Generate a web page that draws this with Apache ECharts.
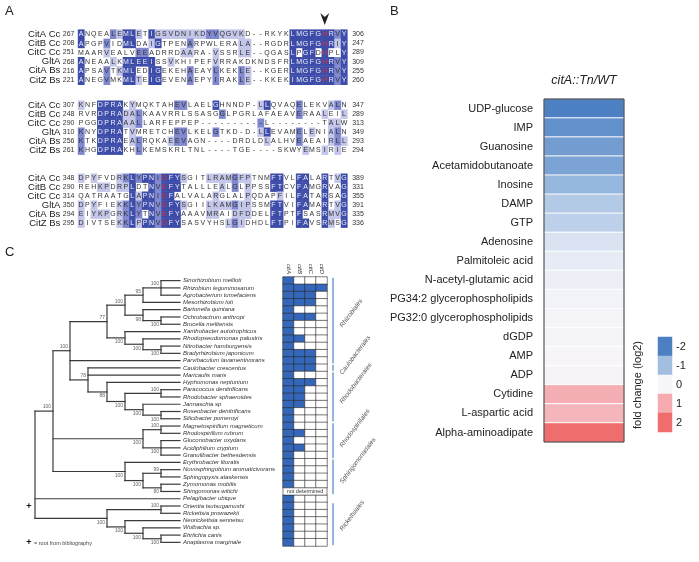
<!DOCTYPE html>
<html><head><meta charset="utf-8">
<script src="https://cdn.jsdelivr.net/npm/echarts@6/dist/echarts.min.js"></script>
<style>html,body{margin:0;padding:0;background:#fff}#c{width:699px;height:562px}</style>
</head><body><div id="c"></div>
<script>
// ---------------- Panel A : alignment ----------------
const seqNames = ['CitA Cc','CitB Cc','CitC Cc','GltA','CitA Bs','CitZ Bs'];
const block1Start = ['267','208','251','268','216','221'];
const block1End   = ['306','247','289','309','255','260'];
const block1Seq = [
 'ANQEALEMLETIGSVDNIKDYVQGVKD--RKYKLMGFGHRVY',
 'APGPVIDMLDAIGTPENARPWLERALA--RGDRLMGFGHRIY',
 'MAARVEALVEEADRRDAARA-VSSRLE--QGASLPGFDHPLY',
 'ANEAALKMLEEISSVKHIPEFVRRAKDKNDSFRLMGFGHRVY',
 'APSAVTKMLEDIGEKEHAEAYLKEKLE--KGERLMGFGHRVY',
 'ANEGVMKMLTEIGEVENAEPYIRAKLE--KKEKIMGFGHRVY'];
const block1Shade = [
 '300002133103111111112211110000000333333323',
 '300020033001300002000000011000000333333313',
 '000010000220000011000100011000000303303003',
 '300001033333001000000100000000000333333323',
 '300020133003300002000200021000000333333323',
 '300020033103300002000200021000000333333323'];
const block2Start = ['307','248','290','310','256','261'];
const block2End   = ['347','289','313','349','293','294'];
const block2Seq = [
 'KNFDPRAKYMQKTAHEVLAELGHNNDP-LLQVAQELEKVALN',
 'RVRDPRADALKAAVRRLSSASGGLPGRLAFAEAVERAALEIL',
 'PGGDPRAAALLARFEPPEP----------L--------TALW',
 'KNYDPRATVMRETCHEVLKELGTKD-D-LLEVAMELENIALN',
 'KTKDPRAEALRQKAEEVAGN----DRDLDLALHVEAEAIRLL',
 'KHGDPRAKHLKEMSKRLTNL----TGE----SKWYEMSIRIE'];
const block2Shade = [
 '100333301000000220000300000013000020000120',
 '000333311200000000000020000000000020001001',
 '000333311200000000000000000020000000000110',
 '200333301000000220000200000013000020100120',
 '200333301200001220000000000001000020000121',
 '200333300200000000000000000000000001001010'];
const block3Start = ['348','290','314','350','294','295'];
const block3End   = ['389','331','355','391','335','336'];
const block3Seq = [
 'DPYFVDRKLYPNIDFYSGITLRAMGFPTNMFTVLFALARTVG',
 'REHKPDRPLDTNVEFYTALLLEALGLPPSSFTCVFAMGRVAG',
 'QATRAATGLAPNIDFALVALARGLALPQDAPFILFATARSAG',
 'DPYFIEKKLYPNVDFYSGIILKAMGIPSSMFTVIFAMARTVG',
 'EIYKPGRKLYTNVEFYAAAVMRAIDFDDELFTPTFSASRMVG',
 'DIVTSEKKLPPNVDFYSASVYHSLGIDHDLFTPIFAVSRMSG'];
const block3Shade = [
 '101000123233233310001111211000330033003013',
 '000110113003233300000010201000330033003003',
 '000000003133233000000100001000010033003003',
 '101000123233233310001111211000330033003013',
 '101110123203233300001100111000330030003113',
 '100000123133233300000001210000330033003103'];
const redColumns = [[38], [], [13]];   // highlighted residues (0-based column)
const arrowColumn = 38;

// ---------------- Panel B : metabolite heatmap ----------------
const metabolites = ['UDP-glucose','IMP','Guanosine','Acetamidobutanoate','Inosine','DAMP','GTP',
 'Adenosine','Palmitoleic acid','N-acetyl-glutamic acid','PG34:2 glycerophospholipids',
 'PG32:0 glycerophospholipids','dGDP','AMP','ADP','Cytidine','L-aspartic acid','Alpha-aminoadipate'];
const foldChange = [-2.0,-1.75,-1.55,-1.45,-1.15,-0.8,-0.7,-0.35,-0.2,-0.12,-0.06,-0.04,-0.03,0.02,0.03,0.95,0.85,2.0];
const legendTicks = ['-2','-1','0','1','2'];
const comparison = ['citA::Tn/WT'];

// ---------------- Panel C : tree + gene matrix ----------------
const species = ['Sinorhizobium meliloti','Rhizobium leguminosarum','Agrobacterium tumefaciens',
 'Mesorhizobium loti','Bartonella quintana','Ochrobactrum anthropi','Brucella melitensis',
 'Xanthobacter autotrophicus','Rhodopseudomonas palustris','Nitrobacter hamburgensis',
 'Bradyrhizobium japonicum','Parvibaculum lavamentivorans','Caulobacter crescentus','Maricaulis maris',
 'Hyphomonas neptunium','Paracoccus denitrificans','Rhodobacter sphaeroides','Jannaschia sp',
 'Roseobacter denitrificans','Silicibacter pomeroyi','Magnetospirillum magneticum','Rhodospirillum rubrum',
 'Gluconobacter oxydans','Acidiphilium cryptum','Granulibacter bethesdensis','Erythrobacter litoralis',
 'Novosphingobium aromaticivorans','Sphingopyxis alaskensis','Zymomonas mobilis','Shingomonas witichi',
 'Pelagibacter ubique','Orientia tsutsugamushi','Rickettsia prowazekii','Neorickettsia sennetsu',
 'Wolbachia sp.','Ehrlichia canis','Anaplasma marginale'];
const genes = ['citA','citB','citC','citD'];
const presence = ['1000','1111','1110','1110','1000','1110','1000','1000','1100','1000','1110','1110',
 '1110','1000','1110','1100','1100','1100','1000','1000','1000','1100','1000','1100','1000','1000',
 '1000','1000','1000','x','1000','1000','1000','1000','1000','1000','1000'];
const orderNames = ['Rhizobiales','Caulobacterales','Rhodobacterales','Rhodospirillales','Sphingomonadales','Rickettsiales'];
const orderFirst = [0,12,13,20,25,31];
const orderLast  = [11,12,19,24,29,36];
// tree: internal nodes (children: tip index or node id), depth, bootstrap support
const nodeIds      = ['sra','sram','ob','bob','a17','nb','rnb','xrnb','a111','pr','rs','jrs','prjrs','hyph','cmh','top','mr','gag','rsp','ns','zs','nszs','sph','alpha','or','ea','wea','nwea','rick','root'];
const nodeDepth    = [161,143,161,143,125,161,143,125,107,161,161,143,125,107,88,70,161,161,143,161,161,143,125,53,161,161,143,125,107,35];
const nodeChildren = [[0,1,2],['sra',3],[5,6],[4,'ob'],['sram','bob'],[9,10],[8,'nb'],[7,'rnb'],['a17','xrnb'],
 [15,16],[18,19],[17,'rs'],['pr','jrs'],[14,'prjrs'],[12,13,'hyph'],['a111',11,'cmh'],[20,21],[22,23,24],['mr','gag'],
 [26,27],[28,29],['ns','zs'],[25,'nszs'],['top','rsp','sph'],[31,32],[35,36],[34,'ea'],[33,'wea'],['or','nwea'],['alpha',30,'rick']];
const nodeSupport  = ['100','95','100','98','100','100','100','100','77','100','100','100','100','88','78','100','100','100','100','99','80','100','100','100','100','100','100','100','100',''];
const supportSide  = ['a','a','b','b','a','b','b','b','a','a','b','b','b','b','a','a','a','b','b','a','b','b','b','a','a','b','b','b','b','a'];
const tipDepth = 180;

// ---------------- build ----------------
const F = '"Liberation Sans", Arial, sans-serif';
const shadeColors = [null,'#c3c6e8','#7f87cf','#3d4ca8'];
const blocks = [
 {seq:block1Seq, shade:block1Shade, start:block1Start, end:block1End},
 {seq:block2Seq, shade:block2Shade, start:block2Start, end:block2End},
 {seq:block3Seq, shade:block3Shade, start:block3Start, end:block3End}];
const alignLeft = 77.8, alignWidth = 269.4;
const blockTops = [29.4, 100.5, 173.5], blockH = [55.2, 54, 54];
const colIdx = block1Seq[0].split('').map((_, i) => String(i));

const grids = [], xAxes = [], yAxes = [], series = [];
blocks.forEach((b, i) => {
  grids.push({left: alignLeft, top: blockTops[i], width: alignWidth, height: blockH[i]});
  xAxes.push({type:'category', gridIndex:i, data:colIdx, show:false});
});
const hideAx = {axisLine:{show:false}, axisTick:{show:false}, splitLine:{show:false}};
blocks.forEach((b, i) => yAxes.push(Object.assign({type:'category', gridIndex:i, data:seqNames, inverse:true, position:'left',
  axisLabel:{interval:0, margin:17.5, fontSize:9.5, fontFamily:F, color:'#222'}}, hideAx)));
blocks.forEach((b, i) => yAxes.push(Object.assign({type:'category', gridIndex:i, data:b.start, inverse:true, position:'left', offset:0,
  axisLabel:{interval:0, margin:15, align:'left', fontSize:7, fontFamily:F, color:'#333'}}, hideAx)));
blocks.forEach((b, i) => yAxes.push(Object.assign({type:'category', gridIndex:i, data:b.end, inverse:true, position:'right',
  axisLabel:{interval:0, margin:5, fontSize:7, fontFamily:F, color:'#333'}}, hideAx)));

blocks.forEach((b, bi) => {
  const data = [];
  b.seq.forEach((s, r) => s.split('').forEach((ch, c) => data.push([c, r, +b.shade[r][c]])));
  series.push({
    type:'custom', xAxisIndex:bi, yAxisIndex:bi, data, clip:false,
    renderItem: (params, api) => {
      const c = api.value(0), r = api.value(1), lv = api.value(2);
      const p = api.coord([c, r]), s = api.size([1, 1]);
      const kids = [];
      if (lv > 0) kids.push({type:'rect', shape:{x:p[0]-s[0]/2, y:p[1]-s[1]/2, width:s[0]+0.4, height:s[1]+0.4},
        style:{fill:shadeColors[lv]}});
      const red = redColumns[bi].indexOf(c) >= 0;
      kids.push({type:'text', style:{text:b.seq[r][c], x:p[0], y:p[1]+0.5, align:'center', verticalAlign:'middle',
        textAlign:'center', textVerticalAlign:'middle', fontSize:7, fontFamily:F,
        fill: red ? '#e0302b' : (lv === 3 ? '#eceefa' : '#333')}});
      return {type:'group', children:kids};
    }
  });
});
// arrowhead above marked column
series.push({type:'custom', xAxisIndex:0, yAxisIndex:0, data:[[arrowColumn, 0]], clip:false,
  renderItem:(params, api) => {
    const p = api.coord([api.value(0), api.value(1)]);
    const x = p[0], y = p[1] - 9;
    return {type:'polygon', shape:{points:[[x-4.5,y-12],[x,y-8],[x+4.5,y-12],[x,y]]}, style:{fill:'#222'}};
  }});

// Panel B grid (index 3) and legend grid (index 4)
grids.push({left:544, top:99, width:80, height:343});
xAxes.push(Object.assign({type:'category', gridIndex:3, data:comparison, position:'top',
  axisLabel:{margin:12, fontSize:12.5, fontStyle:'italic', fontFamily:F, color:'#222'}}, hideAx));
const yB = yAxes.length;
yAxes.push(Object.assign({type:'category', gridIndex:3, data:metabolites, inverse:true, position:'left',
  axisLabel:{interval:0, margin:11, fontSize:11, fontFamily:F, color:'#222'}}, hideAx));
grids.push({left:658, top:337, width:14, height:95});
xAxes.push({type:'category', gridIndex:4, data:[''], show:false});
const yL = yAxes.length;
yAxes.push(Object.assign({type:'category', gridIndex:4, data:legendTicks, inverse:true, position:'right',
  axisLabel:{interval:0, margin:4, fontSize:11, fontFamily:F, color:'#222'}}, hideAx));
const sB = series.length;
series.push({type:'heatmap', xAxisIndex:3, yAxisIndex:yB, data:foldChange.map((v, i) => [0, i, v]),
  itemStyle:{borderColor:'#ffffff', borderWidth:1}, emphasis:{disabled:true}});
series.push({type:'heatmap', xAxisIndex:4, yAxisIndex:yL, data:legendTicks.map((v, i) => [0, i, +v]),
  emphasis:{disabled:true}});

// Panel C : tree grid (5) and matrix grid (6)
grids.push({left:0, top:277, width:180, height:269});
xAxes.push({type:'value', gridIndex:5, min:0, max:180, show:false});
const yT = yAxes.length;
yAxes.push({type:'value', gridIndex:5, min:-0.5, max:species.length-0.5, inverse:true, show:false});
grids.push({left:283, top:277, width:44, height:269});
xAxes.push(Object.assign({type:'category', gridIndex:6, data:genes, position:'top',
  axisLabel:{interval:0, rotate:90, margin:3, fontSize:6, fontStyle:'italic', fontFamily:F, color:'#333'}}, hideAx));
const yM = yAxes.length;
yAxes.push(Object.assign({type:'category', gridIndex:6, data:species, inverse:true, position:'left',
  axisLabel:{interval:0, margin:100, align:'left', fontSize:6, fontStyle:'italic', fontFamily:F, color:'#333'}}, hideAx));

// tree layout
const nodeY = {}, segs = [], supports = [];
function yOf(k) {
  if (typeof k === 'number') return k;
  if (nodeY[k] !== undefined) return nodeY[k];
  const i = nodeIds.indexOf(k);
  const ys = nodeChildren[i].map(yOf);
  const y0 = Math.min.apply(null, ys), y1 = Math.max.apply(null, ys);
  const x = nodeDepth[i];
  segs.push([x, y0, x, y1]);
  nodeChildren[i].forEach((ch, j) => {
    const cx = typeof ch === 'number' ? tipDepth : nodeDepth[nodeIds.indexOf(ch)];
    segs.push([x, ys[j], cx, ys[j]]);
  });
  nodeY[k] = (y0 + y1) / 2;
  if (nodeSupport[i]) supports.push([x, nodeY[k], i]);
  return nodeY[k];
}
yOf('root');
series.push({type:'custom', xAxisIndex:5, yAxisIndex:yT, data:segs, clip:false,
  renderItem:(params, api) => {
    const a = api.coord([api.value(0), api.value(1)]), b = api.coord([api.value(2), api.value(3)]);
    return {type:'line', shape:{x1:a[0], y1:a[1], x2:b[0], y2:b[1]}, style:{stroke:'#3a3a3a', lineWidth:1.2, lineCap:'square'}};
  }});
series.push({type:'custom', xAxisIndex:5, yAxisIndex:yT, data:supports, clip:false,
  renderItem:(params, api) => {
    const p = api.coord([api.value(0), api.value(1)]), i = api.value(2);
    const above = supportSide[i] === 'a';
    return {type:'text', style:{text:nodeSupport[i], x:p[0]-2, y:above ? p[1]-1.5 : p[1]+1.5,
      align:'right', verticalAlign:above ? 'bottom' : 'top', textAlign:'right', textVerticalAlign:above ? 'bottom' : 'top',
      fontSize:5, fontFamily:F, fill:'#666'}};
  }});
// gene matrix
const mData = [];
presence.forEach((p, r) => { if (p !== 'x') p.split('').forEach((v, c) =>
  mData.push({value:[c, r, +v], itemStyle:{color: v === '1' ? '#3467ba' : '#ffffff'}})); });
series.push({type:'heatmap', xAxisIndex:6, yAxisIndex:yM, data:mData,
  itemStyle:{borderColor:'#2a2a2a', borderWidth:0.6}, emphasis:{disabled:true}});
series.push({type:'custom', xAxisIndex:6, yAxisIndex:yM, clip:false,
  data:presence.map((p, r) => p === 'x' ? [0, r] : null).filter(Boolean),
  renderItem:(params, api) => {
    const r = api.value(1), p0 = api.coord([0, r]), s = api.size([1, 1]);
    return {type:'group', children:[
      {type:'rect', shape:{x:p0[0]-s[0]/2, y:p0[1]-s[1]/2, width:s[0]*genes.length, height:s[1]},
        style:{fill:'#fff', stroke:'#2a2a2a', lineWidth:0.6}},
      {type:'text', style:{text:'not determined', x:p0[0]-s[0]/2+s[0]*genes.length/2, y:p0[1]+0.3, align:'center', verticalAlign:'middle',
        textAlign:'center', textVerticalAlign:'middle', fontSize:5.5, fontFamily:F, fill:'#333'}}]};
  }});
series.push({type:'custom', xAxisIndex:6, yAxisIndex:yM, clip:false,
  data:orderFirst.map((f, i) => [genes.length-1, f, orderLast[i], i]),
  renderItem:(params, api) => {
    const a = api.coord([api.value(0), api.value(1)]), b = api.coord([api.value(0), api.value(2)]);
    const s = api.size([1, 1]);
    const x = a[0] + s[0]/2 + 6, y1 = a[1] - s[1]/2 + 0.8, y2 = b[1] + s[1]/2 - 0.8, mid = (y1 + y2)/2;
    return {type:'group', children:[
      {type:'line', shape:{x1:x, y1:y1, x2:x, y2:y2}, style:{stroke:'#3c78c4', lineWidth:1.1}},
      {type:'text', x:x+8, y:mid+6, rotation:53*Math.PI/180,
        style:{text:orderNames[api.value(3)], x:0, y:0, align:'left', verticalAlign:'middle', textAlign:'left', textVerticalAlign:'middle',
        fontSize:6.5, fontStyle:'italic', fontFamily:F, fill:'#555'}}]};
  }});

const chart = echarts.init(document.getElementById('c'));
chart.setOption({
  animation:false,
  grid:grids.map(g => Object.assign({outerBoundsMode:'none', containLabel:false}, g)),
  xAxis:xAxes, yAxis:yAxes,
  visualMap:[{type:'continuous', show:false, seriesIndex:[sB, sB+1], dimension:2, min:-2, max:2,
    inRange:{color:['#4c80c3','#a2bfe2','#f7f6fa','#f5abb0','#ef6d6d']}}],
  series:series,
  graphic:[
    {type:'text', left:5, top:5, style:{text:'A', fontSize:13, fontFamily:F, fill:'#222'}},
    {type:'text', left:390, top:5, style:{text:'B', fontSize:13, fontFamily:F, fill:'#222'}},
    {type:'text', left:5, top:246, style:{text:'C', fontSize:13, fontFamily:F, fill:'#222'}},
    {type:'rect', shape:{x:544, y:99, width:80, height:343}, style:{fill:'none', stroke:'#333', lineWidth:1}, z:100},
    {type:'text', x:638, y:385, rotation:Math.PI/2, style:{text:'fold change (log2)', x:0, y:0, align:'center', verticalAlign:'middle',
      textAlign:'center', textVerticalAlign:'middle', fontSize:11, fontFamily:F, fill:'#222'}},
    {type:'text', x:29, y:507, style:{text:'+', x:0, y:0, align:'center', verticalAlign:'middle', textAlign:'center', textVerticalAlign:'middle',
      fontSize:9, fontWeight:'bold', fontFamily:F, fill:'#111'}},
    {type:'text', x:29, y:543, style:{text:'+', x:0, y:0, align:'center', verticalAlign:'middle', textAlign:'center', textVerticalAlign:'middle',
      fontSize:9, fontWeight:'bold', fontFamily:F, fill:'#111'}},
    {type:'text', x:34, y:543, style:{text:'= root from bibliography', x:0, y:0, align:'left', verticalAlign:'middle', textAlign:'left', textVerticalAlign:'middle',
      fontSize:5.5, fontFamily:F, fill:'#444'}}
  ]
});
</script></body></html>
